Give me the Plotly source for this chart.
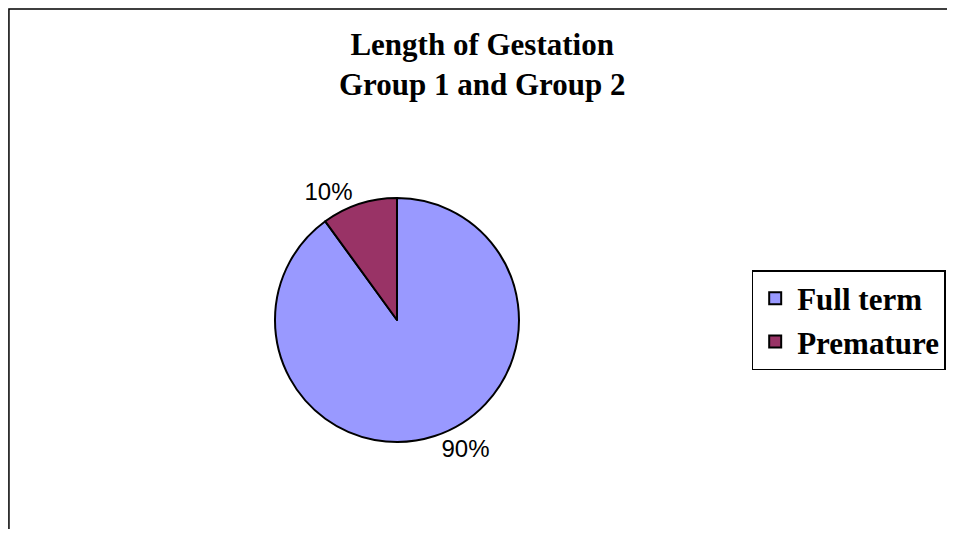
import plotly.graph_objects as go

# Gestation length, groups 1 and 2 combined
labels = ['Full term', 'Premature']
shares = [90, 10]
colors = ['#9999FF', '#993366']

fig = go.Figure()

fig.add_trace(go.Pie(
    labels=labels,
    values=shares,
    sort=False,
    direction='clockwise',
    rotation=0,
    marker=dict(colors=colors, line=dict(color='black', width=2)),
    textinfo='percent',
    textposition='outside',
    texttemplate='%{percent:.0%}',
    outsidetextfont=dict(family='Arial, Liberation Sans', size=24, color='black'),
    domain=dict(x=[0.2843, 0.5442], y=[0.167, 0.6353]),
    hovertemplate='%{label}: %{percent}<extra></extra>'
))

fig.update_layout(
    title=dict(
        text='Length of Gestation<br>Group 1 and Group 2',
        x=0.505, xanchor='center',
        y=0.91, yanchor='top',
        font=dict(family='Times New Roman, Liberation Serif', size=31, color='black', weight='bold')
    ),
    legend=dict(
        x=0.792, xanchor='left',
        y=0.401, yanchor='middle',
        font=dict(family='Times New Roman, Liberation Serif', size=31, color='black', weight='bold'),
        itemwidth=34,
        bordercolor='black',
        borderwidth=1.5,
        bgcolor='white'
    ),
    paper_bgcolor='white',
    plot_bgcolor='white',
    margin=dict(l=0, r=0, t=0, b=0),
    shapes=[dict(
        type='rect', xref='paper', yref='paper',
        x0=0.001, x1=1.05, y0=-0.05, y1=0.998,
        line=dict(color='black', width=1.5)
    )]
)

fig.write_html("out.html")
